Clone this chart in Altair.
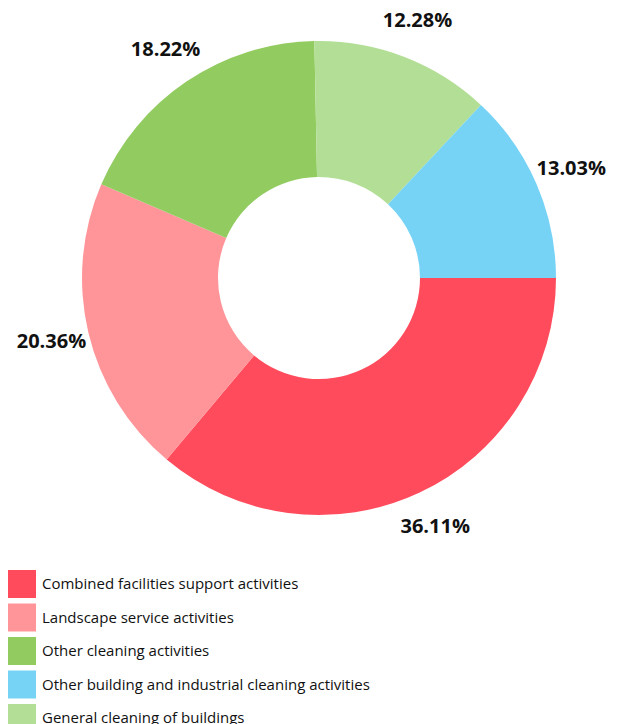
import math
import altair as alt
import pandas as pd

categories = [
    "Combined facilities support activities",
    "Landscape service activities",
    "Other cleaning activities",
    "General cleaning of buildings",
    "Other building and industrial cleaning activities",
]
values = [36.11, 20.36, 18.22, 12.28, 13.03]
labels = ["36.11%", "20.36%", "18.22%", "12.28%", "13.03%"]
stack_order = [1, 2, 3, 4, 5]

legend_order = [
    "Combined facilities support activities",
    "Landscape service activities",
    "Other cleaning activities",
    "Other building and industrial cleaning activities",
    "General cleaning of buildings",
]
legend_colors = ["#ff4b5c", "#ff9499", "#92cc60", "#76d3f5", "#b2df95"]

df = pd.DataFrame({"cat": categories, "value": values, "label": labels, "ord": stack_order})

base = alt.Chart(df).encode(
    theta=alt.Theta("value:Q", stack=True,
                    scale=alt.Scale(range=[math.pi / 2, math.pi / 2 + 2 * math.pi])),
    order=alt.Order("ord:Q"),
    x=alt.value(311),
    y=alt.value(270),
)

arc = base.mark_arc(innerRadius=101, outerRadius=237).encode(
    color=alt.Color(
        "cat:N",
        scale=alt.Scale(domain=legend_order, range=legend_colors),
        legend=alt.Legend(
            title=None,
            orient="none",
            legendX=0,
            legendY=562,
            symbolType="square",
            symbolSize=784,
            symbolStrokeWidth=0,
            symbolOpacity=1,
            rowPadding=5.5,
            labelFont="Open Sans",
            labelFontSize=15,
            labelColor="#111111",
            labelOffset=6,
            labelLimit=600,
        ),
    )
)

text = base.mark_text(radius=275, fontSize=20, fontWeight="bold",
                      font="Open Sans", color="#111111").encode(text="label:N")

chart = (arc + text).properties(
    width=600, height=716,
    autosize=alt.AutoSizeParams(type="none"),
    padding=0,
).configure_view(stroke=None)

chart.save("out.html", embed_options={"renderer": "svg", "actions": False})
